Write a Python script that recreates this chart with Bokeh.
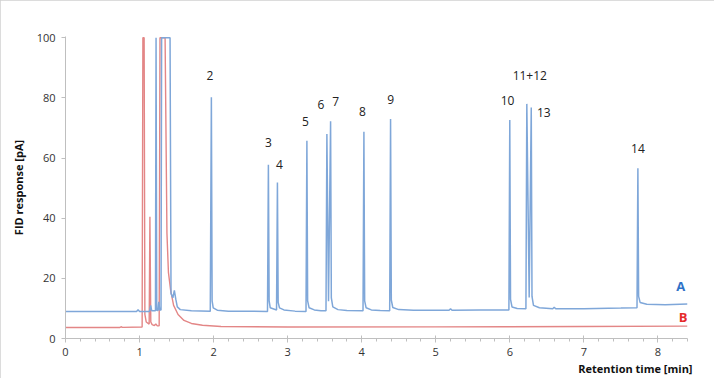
from bokeh.plotting import figure
from bokeh.models import Range1d, Label, FixedTicker, ColumnDataSource, Title
from bokeh.core.properties import value
from bokeh.embed import file_html
from bokeh.resources import INLINE

# Trace A (blue) vertices: retention time [min], FID response [pA]
time_a = [0.00, 0.96, 0.98, 1.00, 1.135, 1.15, 1.165, 1.215, 1.223, 1.232, 1.25, 1.26, 1.272, 1.29,
          1.298, 1.412, 1.425, 1.45, 1.47, 1.49, 1.51, 1.55, 1.70,
          1.955, 1.97, 1.98, 1.995, 2.05, 2.20,
          2.728, 2.740, 2.750, 2.765, 2.850, 2.862, 2.872, 2.89, 2.95, 3.10,
          3.248, 3.260, 3.270, 3.29, 3.36, 3.45,
          3.518, 3.530, 3.552, 3.580, 3.590, 3.61, 3.68, 3.80,
          4.018, 4.030, 4.040, 4.06, 4.13, 4.25,
          4.378, 4.390, 4.400, 4.42, 4.50, 4.70,
          5.18, 5.20, 5.22, 5.60,
          5.988, 6.000, 6.010, 6.03, 6.10,
          6.218, 6.230, 6.262, 6.290, 6.300, 6.32, 6.40, 6.58, 6.60, 6.62, 7.00, 7.50,
          7.718, 7.730, 7.740, 7.76, 7.85, 8.10, 8.40]
resp_a = [9.0, 9.0, 9.6, 9.0, 9.0, 11.0, 9.2, 9.2, 100, 9.4, 9.3, 12.2, 9.5, 9.5,
          100, 100, 15.0, 13.5, 16.0, 13.0, 10.5, 9.6, 9.2,
          9.1, 80.2, 12.5, 10.2, 9.4, 9.1,
          9.0, 57.8, 12.5, 10.2, 9.5, 51.9, 12.0, 10.2, 9.5, 9.1,
          9.0, 65.7, 12.5, 10.2, 9.5, 9.2,
          9.2, 68.0, 12.4, 72.2, 13.5, 10.5, 9.6, 9.3,
          9.2, 68.7, 12.5, 10.2, 9.5, 9.3,
          9.2, 73.0, 12.8, 10.3, 9.6, 9.4,
          9.4, 9.9, 9.4, 9.5,
          9.5, 72.6, 13.0, 10.5, 10.0,
          9.9, 78.0, 13.6, 76.8, 14.0, 11.0, 10.2, 9.9, 10.4, 9.9, 9.9, 10.1,
          10.2, 56.6, 14.0, 12.0, 11.4, 11.2, 11.5]

# Trace B (red) vertices
time_b = [0.00, 0.73, 0.75, 0.77, 1.035, 1.045, 1.062, 1.072, 1.09, 1.13, 1.14, 1.152, 1.17,
          1.20, 1.22, 1.24, 1.265, 1.276, 1.345, 1.37, 1.39, 1.42, 1.46, 1.52, 1.60,
          1.70, 1.85, 2.10, 3.00, 5.00, 7.00, 8.40]
resp_b = [3.65, 3.65, 3.9, 3.7, 3.8, 100, 100, 8.0, 5.5, 4.8, 40.5, 5.5, 4.6,
          4.3, 4.8, 4.2, 4.2, 100, 100, 35.0, 22.0, 16.0, 11.0, 8.0, 6.0,
          5.0, 4.4, 4.0, 3.8, 3.85, 4.0, 4.1]

# Peak labels
peak_names = ["2", "3", "4", "5", "6", "7", "8", "9", "10", "11+12", "13", "14"]
peak_lx = [1.95, 2.74, 2.89, 3.24, 3.45, 3.65, 4.01, 4.39, 5.97, 6.27, 6.46, 7.73]
peak_ly = [87.4, 65.0, 58.0, 72.0, 77.7, 78.7, 75.4, 79.4, 79.0, 87.4, 75.0, 63.0]

x_ticks = [0, 1, 2, 3, 4, 5, 6, 7, 8]
y_ticks = [0, 20, 40, 60, 80, 100]

FONT = "Open Sans"

p = figure(width=714, height=378, output_backend="svg", toolbar_location=None,
           x_range=Range1d(0, 8.4), y_range=Range1d(0, 100.4),
           min_border_left=65, min_border_right=27, min_border_top=36, min_border_bottom=40)
p.styles = {"outline": "1px solid #d0d0d0", "outline-offset": "-1px"}
p.outline_line_color = None
p.xgrid.visible = False
p.ygrid.visible = False
p.background_fill_color = "white"
p.border_fill_color = "white"

p.line(time_b, resp_b, line_color="#e38686", line_width=1.4)
p.line(time_a, resp_a, line_color="#7fa7d9", line_width=1.5)

src = ColumnDataSource(dict(x=peak_lx, y=peak_ly, t=peak_names))
p.text("x", "y", text="t", source=src, text_align="center", text_baseline="middle",
       text_font=value(FONT), text_font_size="12px", text_color="#222222")

p.add_layout(Label(x=8.31, y=17.3, text="A", text_align="center", text_baseline="middle",
                   text_font=FONT, text_font_size="13px", text_font_style="bold",
                   text_color="#2f72c8"))
p.add_layout(Label(x=8.34, y=7.3, text="B", text_align="center", text_baseline="middle",
                   text_font=FONT, text_font_size="13px", text_font_style="bold",
                   text_color="#e52a2a"))

xt = Title(text="Retention time [min]", align="right", text_font=FONT, text_font_size="11px",
           text_font_style="bold", text_color="#111111", offset=-5, standoff=0)
p.add_layout(xt, "below")

for ax in (p.xaxis[0], p.yaxis[0]):
    ax.axis_line_color = "#bfbfbf"
    ax.major_tick_line_color = "#bfbfbf"
    ax.minor_tick_line_color = "#bfbfbf"
    ax.major_label_text_font = FONT
    ax.major_label_text_font_size = "11px"
    ax.major_label_text_color = "#333333"

p.xaxis.ticker = FixedTicker(ticks=x_ticks, minor_ticks=[i * 0.2 for i in range(43)])
p.xaxis.major_tick_in = 3
p.xaxis.major_tick_out = 4
p.xaxis.minor_tick_in = 0
p.xaxis.minor_tick_out = 3
p.xaxis.major_label_standoff = 5

p.yaxis.ticker = FixedTicker(ticks=y_ticks)
p.yaxis.major_tick_in = 0
p.yaxis.major_tick_out = 4
p.yaxis.minor_tick_line_color = None
p.yaxis.major_label_standoff = 6
p.yaxis.axis_label = "FID response [pA]"
p.yaxis.axis_label_text_font = FONT
p.yaxis.axis_label_text_font_size = "11px"
p.yaxis.axis_label_text_font_style = "bold"
p.yaxis.axis_label_text_color = "#111111"
p.yaxis.axis_label_standoff = 8

open("out.html", "w").write(file_html(p, INLINE))
